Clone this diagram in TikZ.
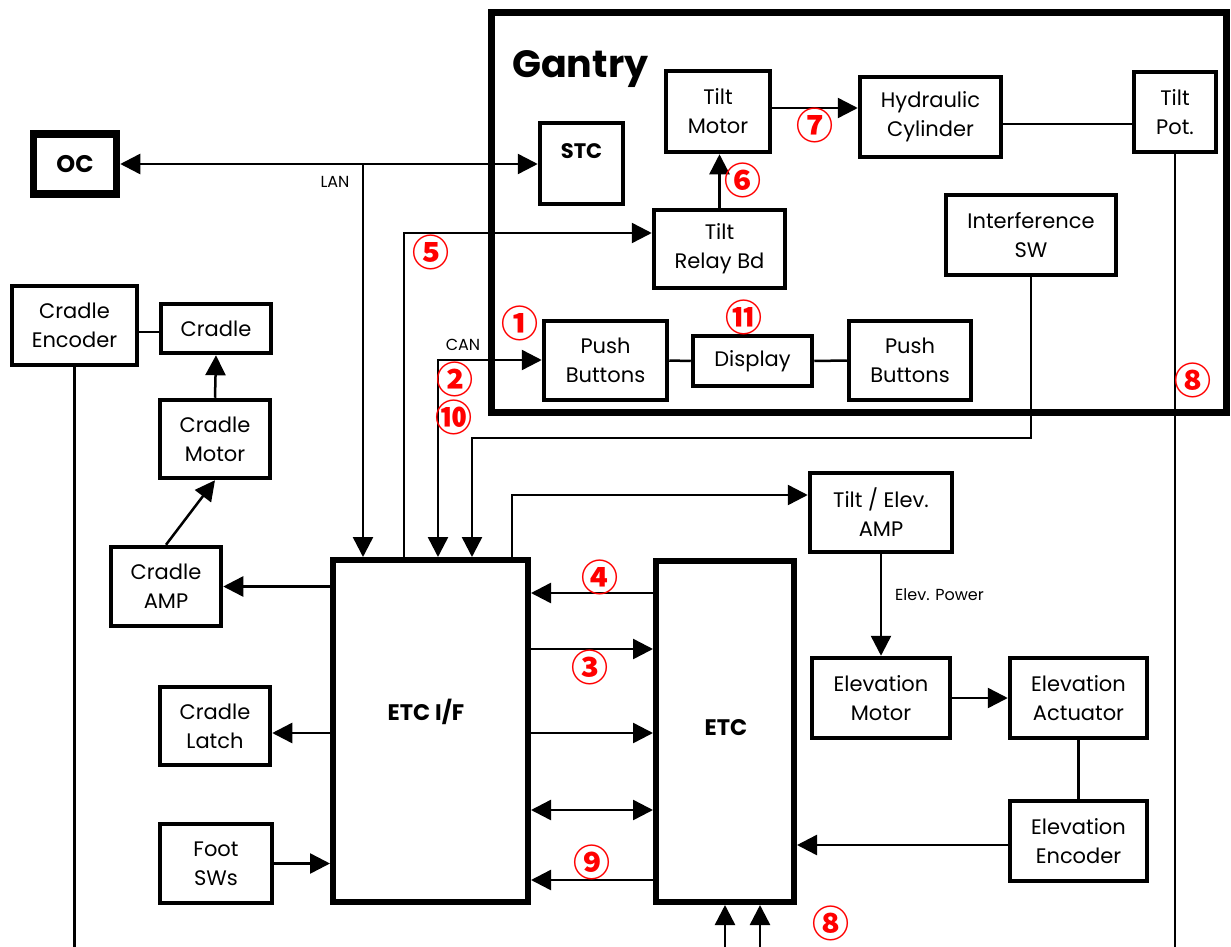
\documentclass[tikz,border=0pt]{standalone}
\usepackage{fontspec}
\setmainfont{Poppins}
\newfontfamily\cjk{Noto Sans CJK SC}
\usetikzlibrary{arrows.meta}
\tikzset{
  box/.style={draw, line width=4.5pt, align=center, inner sep=0pt, font=\fontsize{21}{29}\selectfont},
  conn/.style={line width=2.5pt},
  arr/.style={-{Triangle[length=20pt,width=20pt]}},
  arrboth/.style={{Triangle[length=20pt,width=20pt]}-{Triangle[length=20pt,width=20pt]}},
  num/.style={text=red, inner sep=0pt, font=\cjk\bfseries\fontsize{37}{37}\selectfont},
  small/.style={inner sep=0pt, font=\fontsize{16}{16}\selectfont},
  boldlbl/.style={inner sep=0pt, anchor=base, font=\bfseries\fontsize{22.5}{22.5}\selectfont},
}
\begin{document}
\begin{tikzpicture}[x=1pt,y=-1pt]
\fill[white] (0,0) rectangle (1231,947);
\useasboundingbox (0,0) rectangle (1231,947);

% Gantry frame
\node[draw, line width=7pt, minimum width=735pt, minimum height=399pt, inner sep=0pt] (gantry) at (858.5,212.5) {};
\node[anchor=base west, inner sep=0pt, font=\bfseries\fontsize{38}{38}\selectfont] (gantrylbl) at (512,78) {Gantry};

% boxes
\node[box, line width=7.5pt, minimum width=83pt, minimum height=60pt, font=\bfseries\fontsize{24}{24}\selectfont] (oc) at (75,164) {OC};
\node[box, minimum width=83pt, minimum height=81pt] (stc) at (581.5,163.5) {};
\node[boldlbl, font=\bfseries\fontsize{21}{21}\selectfont] (stclbl) at (581.5,158) {STC};
\node[box, minimum width=104pt, minimum height=81pt] (tm) at (718,111.5) {Tilt\\Motor};
\node[box, minimum width=141pt, minimum height=80pt] (hc) at (930.5,117) {Hydraulic\\Cylinder};
\node[box, minimum width=82pt, minimum height=80pt] (tp) at (1175,112) {Tilt\\Pot.};
\node[box, minimum width=131pt, minimum height=78pt] (trb) at (719.5,249) {Tilt\\Relay Bd};
\node[box, minimum width=170pt, minimum height=80pt] (isw) at (1031,235) {Interference\\SW};
\node[box, minimum width=123pt, minimum height=79pt] (pb1) at (605.5,360.5) {Push\\Buttons};
\node[box, minimum width=119pt, minimum height=50pt] (disp) at (752.5,361) {Display};
\node[box, minimum width=122pt, minimum height=79pt] (pb2) at (910,360.5) {Push\\Buttons};

\node[box, minimum width=125pt, minimum height=79pt] (ce) at (74.5,325.5) {Cradle\\Encoder};
\node[box, minimum width=110pt, minimum height=49pt] (cr) at (216,328.5) {Cradle};
\node[box, minimum width=110pt, minimum height=78pt] (cm) at (215,439) {Cradle\\Motor};
\node[box, minimum width=110pt, minimum height=79pt] (camp) at (166,586.5) {Cradle\\AMP};
\node[box, minimum width=110pt, minimum height=78pt] (cl) at (215,726) {Cradle\\Latch};
\node[box, minimum width=112pt, minimum height=79pt] (fs) at (216,863.5) {Foot\\SWs};

\node[box, line width=6pt, minimum width=195pt, minimum height=342pt] (etcif) at (430.5,731) {};
\node[boldlbl] (etciflbl) at (426,720) {ETC I/F};
\node[box, line width=6pt, minimum width=138pt, minimum height=341pt] (etc) at (725,731.5) {};
\node[boldlbl] (etclbl) at (726,735) {ETC};

\node[box, minimum width=142pt, minimum height=79pt] (tea) at (881,512.5) {Tilt / Elev.\\AMP};
\node[box, minimum width=138pt, minimum height=80pt] (em) at (881,698) {Elevation\\Motor};
\node[box, minimum width=137pt, minimum height=80pt] (ea) at (1078.5,698) {Elevation\\Actuator};
\node[box, minimum width=137pt, minimum height=80pt] (ee) at (1078.5,841) {Elevation\\Encoder};

% helper coordinates
\coordinate (bot) at (0,947);
\coordinate (lanj) at (363,164);
\coordinate (c5) at (404,233);
\coordinate (ccan) at (438,360);
\coordinate (cis) at (472,438);
\coordinate (cte) at (512,495);
\coordinate (c7) at (0,108);
\coordinate (c8) at (0,124);
\coordinate (y4) at (0,593);
\coordinate (y3) at (0,649);
\coordinate (ya) at (0,733);
\coordinate (yb) at (0,810);
\coordinate (y9) at (0,880);
\coordinate (ye) at (0,845);
\coordinate (xb1) at (725,947);
\coordinate (xb2) at (760,947);
\coordinate (ycr) at (0,332);
\coordinate (ycl) at (0,733);

% connectors
\draw[conn, arrboth] (oc.east) -- (oc.east -| stc.west);
\draw[conn, arr] (lanj) -- (lanj |- etcif.north);
\node[small] (lan) at (335,182) {LAN};

\draw[conn, arr] (c5 |- etcif.north) -- (c5) -- (c5 -| trb.west);
\draw[conn, arrboth] (ccan |- etcif.north) -- (ccan) -- (ccan -| pb1.west);
\node[small] (canlbl) at (463,345) {CAN};
\draw[conn, arr] (isw.south) -- (isw.south |- cis) -- (cis) -- (cis |- etcif.north);
\draw[conn, arr] (cte |- etcif.north) -- (cte) -- (cte -| tea.west);

\draw[conn, arr] (trb.north) -- (trb.north |- tm.south);
\draw[conn, arr] (tm.east |- c7) -- (hc.west |- c7);
\draw[conn] (hc.east |- c8) -- (tp.west |- c8);
\draw[conn] (tp.south) -- (tp.south |- bot);
\draw[conn] (pb1.east) -- (disp.west);
\draw[conn] (disp.east) -- (pb2.west);

\draw[conn, arr] (etc.west |- y4) -- (etcif.east |- y4);
\draw[conn, arr] (etcif.east |- y3) -- (etc.west |- y3);
\draw[conn, arr] (etcif.east |- ya) -- (etc.west |- ya);
\draw[conn, arrboth] (etcif.east |- yb) -- (etc.west |- yb);
\draw[conn, arr] (etc.west |- y9) -- (etcif.east |- y9);
\draw[conn, arr] (xb1) -- (xb1 |- etc.south);
\draw[conn, arr] (xb2) -- (xb2 |- etc.south);

\draw[conn, arr] (ee.west |- ye) -- (etc.east |- ye);
\draw[conn, arr] (tea.south) -- (em.north);
\node[small, anchor=west] (ep) at (895,595) {Elev. Power};
\draw[conn, arr] (em.east) -- (ea.west);
\draw[conn] (ea.south) -- (ee.north);

\draw[conn] (ce.east |- ycr) -- (cr.west |- ycr);
\draw[conn] (ce.south) -- (ce.south |- bot);
\draw[conn, arr] (cm.north) -- (cr.south);
\draw[conn, arr] (camp.north) -- (cm.south);
\draw[conn, arr] (etcif.west |- camp.east) -- (camp.east);
\draw[conn, arr] (etcif.west |- ycl) -- (cl.east |- ycl);
\draw[conn, arr] (fs.east) -- (etcif.west |- fs.east);

% circled numbers
\node[num] (n1) at (520,323) {①};
\node[num] (n2) at (455,379) {②};
\node[num] (n3) at (590,667) {③};
\node[num] (n4) at (600,577) {④};
\node[num] (n5) at (431,252) {⑤};
\node[num] (n6) at (743,180) {⑥};
\node[num] (n7) at (815,125) {⑦};
\node[num] (n8a) at (1193,380) {⑧};
\node[num] (n8b) at (831,923) {⑧};
\node[num] (n9) at (592,862) {⑨};
\node[num] (n10) at (454,417) {⑩};
\node[num] (n11) at (744,317) {⑪};
\end{tikzpicture}
\end{document}
